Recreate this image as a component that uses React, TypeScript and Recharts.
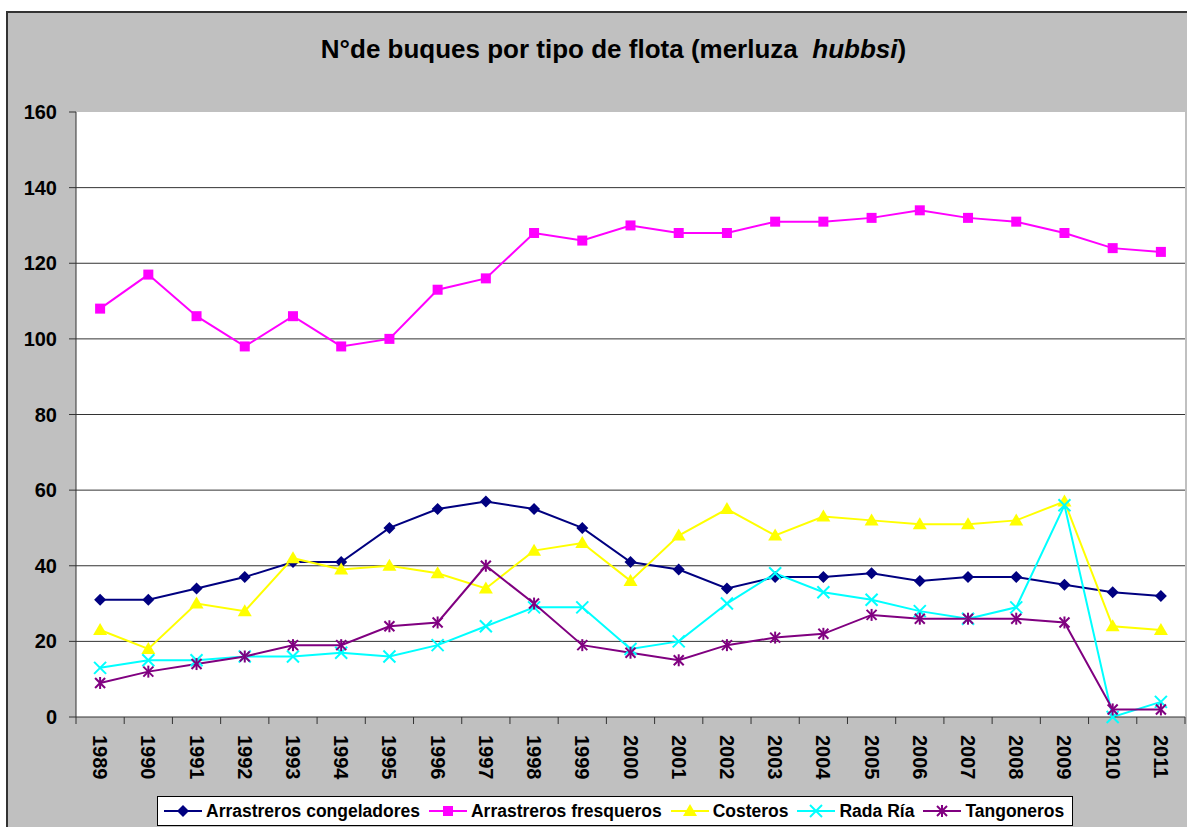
import React from 'react';
import { LineChart, Line, XAxis, YAxis, CartesianGrid, Legend } from 'recharts';

const years = ['1989', '1990', '1991', '1992', '1993', '1994', '1995', '1996', '1997', '1998', '1999', '2000',
  '2001', '2002', '2003', '2004', '2005', '2006', '2007', '2008', '2009', '2010', '2011'];
const congeladores = [31, 31, 34, 37, 41, 41, 50, 55, 57, 55, 50, 41, 39, 34, 37, 37, 38, 36, 37, 37, 35, 33, 32];
const fresqueros = [108, 117, 106, 98, 106, 98, 100, 113, 116, 128, 126, 130, 128, 128, 131, 131, 132, 134, 132, 131, 128, 124, 123];
const costeros = [23, 18, 30, 28, 42, 39, 40, 38, 34, 44, 46, 36, 48, 55, 48, 53, 52, 51, 51, 52, 57, 24, 23];
const radaRia = [13, 15, 15, 16, 16, 17, 16, 19, 24, 29, 29, 18, 20, 30, 38, 33, 31, 28, 26, 29, 56, 0, 4];
const tangoneros = [9, 12, 14, 16, 19, 19, 24, 25, 40, 30, 19, 17, 15, 19, 21, 22, 27, 26, 26, 26, 25, 2, 2];
const yTicks = [0, 20, 40, 60, 80, 100, 120, 140, 160];

const data = years.map((year, i) => ({
  year,
  congeladores: congeladores[i],
  fresqueros: fresqueros[i],
  costeros: costeros[i],
  radaRia: radaRia[i],
  tangoneros: tangoneros[i],
}));

const W = 1187;
const H = 827;
const PLOT_W = 1109;
const BAND = PLOT_W / years.length;
const FONT = 'Arial, "Liberation Sans", sans-serif';

type Shape = 'diamond' | 'square' | 'triangle' | 'x' | 'star';

const series: { key: string; name: string; color: string; shape: Shape }[] = [
  { key: 'congeladores', name: 'Arrastreros congeladores', color: '#000080', shape: 'diamond' },
  { key: 'fresqueros', name: 'Arrastreros fresqueros', color: '#FF00FF', shape: 'square' },
  { key: 'costeros', name: 'Costeros', color: '#FFFF00', shape: 'triangle' },
  { key: 'radaRia', name: 'Rada Ría', color: '#00FFFF', shape: 'x' },
  { key: 'tangoneros', name: 'Tangoneros', color: '#800080', shape: 'star' },
];

function marker(shape: Shape, cx: number, cy: number, color: string, key?: string | number) {
  switch (shape) {
    case 'diamond':
      return <polygon key={key} points={`${cx},${cy - 6} ${cx + 6},${cy} ${cx},${cy + 6} ${cx - 6},${cy}`} fill={color} />;
    case 'square':
      return <rect key={key} x={cx - 5} y={cy - 5} width={10} height={10} fill={color} />;
    case 'triangle':
      return <polygon key={key} points={`${cx},${cy - 7} ${cx + 7},${cy + 5} ${cx - 7},${cy + 5}`} fill={color} />;
    case 'x':
      return (
        <g key={key} stroke={color} strokeWidth={2}>
          <line x1={cx - 6} y1={cy - 6} x2={cx + 6} y2={cy + 6} />
          <line x1={cx - 6} y1={cy + 6} x2={cx + 6} y2={cy - 6} />
        </g>
      );
    default:
      return (
        <g key={key} stroke={color} strokeWidth={2}>
          <line x1={cx - 5} y1={cy - 5} x2={cx + 5} y2={cy + 5} />
          <line x1={cx - 5} y1={cy + 5} x2={cx + 5} y2={cy - 5} />
          <line x1={cx} y1={cy - 6} x2={cx} y2={cy + 6} />
        </g>
      );
  }
}

const XTick = (props: any) => {
  const { x, y, payload, index } = props;
  return (
    <g>
      <line x1={x - BAND / 2} y1={y} x2={x - BAND / 2} y2={y + 7} stroke="#333" />
      {index === years.length - 1 && <line x1={x + BAND / 2} y1={y} x2={x + BAND / 2} y2={y + 7} stroke="#333" />}
      <text
        x={0}
        y={0}
        transform={`translate(${x},${y + 18}) rotate(90)`}
        textAnchor="start"
        dominantBaseline="central"
        fontFamily={FONT}
        fontWeight="bold"
        fontSize={20}
        fill="#000"
      >
        {payload.value}
      </text>
    </g>
  );
};

const LegendBox = () => (
  <div
    style={{
      display: 'flex',
      alignItems: 'center',
      background: '#fff',
      border: '1px solid #000',
      height: 30,
      padding: '0 8px 0 6px',
      fontFamily: FONT,
      fontWeight: 'bold',
      fontSize: 17.5,
      whiteSpace: 'nowrap',
      boxSizing: 'border-box',
    }}
  >
    {series.map((s, i) => (
      <div key={s.key} style={{ display: 'flex', alignItems: 'center', marginRight: i === series.length - 1 ? 0 : 9 }}>
        <svg width={38} height={16}>
          <line x1={0} y1={8} x2={38} y2={8} stroke={s.color} strokeWidth={2} />
          {marker(s.shape, 19, 8, s.color)}
        </svg>
        <span style={{ marginLeft: 4 }}>{s.name}</span>
      </div>
    ))}
  </div>
);

export default function App() {
  return (
    <div style={{ position: 'absolute', left: 0, top: 0, width: W, height: H, background: '#fff', overflow: 'hidden' }}>
      <div
        style={{
          position: 'absolute',
          left: 6,
          top: 11,
          width: 1220,
          height: 850,
          background: '#C0C0C0',
          borderLeft: '2px solid #333',
          borderTop: '2px solid #333',
        }}
      />
      <div
        style={{
          position: 'absolute',
          left: 0,
          top: 34,
          width: 1227,
          textAlign: 'center',
          fontFamily: FONT,
          fontWeight: 'bold',
          fontSize: 26,
          color: '#000',
        }}
      >
        N°de buques por tipo de flota (merluza&nbsp; <i>hubbsi</i>)
      </div>
      <div style={{ position: 'absolute', left: 0, top: 0 }}>
        <LineChart width={W} height={H} data={data} margin={{ top: 112, right: 2, bottom: 30, left: 16 }}>
          <CartesianGrid
            vertical={false}
            stroke="#333"
            fill="#fff"
            horizontalValues={[20, 40, 60, 80, 100, 120, 140]}
          />
          <XAxis
            dataKey="year"
            height={80}
            padding={{ left: BAND / 2, right: BAND / 2 }}
            axisLine={{ stroke: '#333' }}
            tickLine={false}
            tickSize={0}
            tickMargin={0}
            interval={0}
            tick={<XTick />}
          />
          <YAxis
            width={60}
            domain={[0, 160]}
            ticks={yTicks}
            interval={0}
            axisLine={{ stroke: '#333' }}
            tickLine={{ stroke: '#333' }}
            tickSize={7}
            tickMargin={12}
            tick={{ fontFamily: FONT, fontWeight: 'bold', fontSize: 20, fill: '#000' }}
          />
          {series.map((s) => (
            <Line
              key={s.key}
              type="linear"
              dataKey={s.key}
              name={s.name}
              stroke={s.color}
              strokeWidth={2}
              isAnimationActive={false}
              dot={(p: any) => marker(s.shape, p.cx, p.cy, s.color, `${s.key}-${p.index}`)}
              activeDot={false}
            />
          ))}
          <Legend
            layout="horizontal"
            verticalAlign="middle"
            align="center"
            content={<LegendBox />}
            wrapperStyle={{ position: 'absolute', left: 157, top: 796, width: 'auto' }}
          />
        </LineChart>
      </div>
    </div>
  );
}
